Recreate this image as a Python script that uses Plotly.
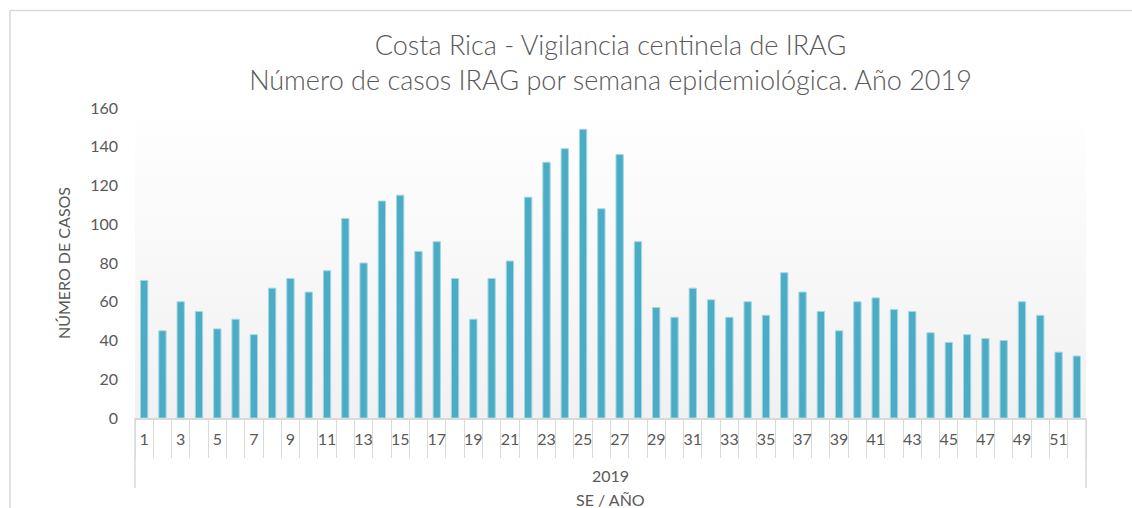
import plotly.graph_objects as go

# ---- data ----
weeks = [str(w) for w in range(1, 53)]
cases = [71, 45, 60, 55, 46, 51, 43, 67, 72, 65, 76, 103, 80, 112, 115, 86, 91, 72,
         51, 72, 81, 114, 132, 139, 149, 108, 136, 91, 57, 52, 67, 61, 52, 60, 53, 75,
         65, 55, 45, 60, 62, 56, 55, 44, 39, 43, 41, 40, 60, 53, 34, 32]
week_labels = [w if int(w) % 2 == 1 else "" for w in weeks]
year_label = "2019"
y_ticks = [0, 20, 40, 60, 80, 100, 120, 140, 160]

title_text = ("Costa Rica - Vigilancia centinela de IRAG<br>"
              "Número de casos IRAG por semana epidemiológica. Año 2019")

FONT = "Lato"
GREY = "#595959"
LINE = "#d9d9d9"

W, H = 1132, 508
ML, MR, MT, MB = 135, 46, 108, 90
pw = W - ML - MR
ph = H - MT - MB


def px_x(px):
    return (px - ML) / pw


def px_y(py):
    return (H - MB - py) / ph


fig = go.Figure()

# plot-area background gradient (white at top -> light grey at bottom)
fig.add_trace(go.Scatter(
    x=[0, 1, 1, 0, 0], y=[0, 0, y_ticks[-1], y_ticks[-1], 0],
    xaxis="x", yaxis="y", mode="lines", line=dict(width=0),
    fill="toself",
    fillgradient=dict(type="vertical",
                      colorscale=[[0, "#f1f1f1"], [1, "#ffffff"]]),
    hoverinfo="skip", showlegend=False,
))

fig.add_trace(go.Bar(
    x=weeks, y=cases, xaxis="x2", yaxis="y",
    marker=dict(color="#4bacc6", line=dict(color="#a6d6e4", width=1)),
    showlegend=False,
))

fig.update_layout(
    width=W, height=H,
    margin=dict(l=ML, r=MR, t=MT, b=MB),
    paper_bgcolor="white", plot_bgcolor="white",
    font=dict(family=FONT, color=GREY, size=16),
    bargap=0.6,
    title=dict(text=title_text, x=0.5, xref="paper", y=1 - 55 / H, yanchor="top",
               font=dict(family=FONT, size=27, color=GREY, weight=300)),
    xaxis=dict(range=[0, 1], visible=False, fixedrange=True),
    xaxis2=dict(
        overlaying="x", anchor="y", side="bottom", type="category",
        tickmode="array", tickvals=weeks, ticktext=week_labels, tickangle=0,
        ticks="outside", tickson="boundaries", ticklen=38, tickwidth=1,
        tickcolor=LINE, showline=True, linecolor=LINE, linewidth=1.5,
        showgrid=False, ticklabelstandoff=6,
        tickfont=dict(size=16, color=GREY),
    ),
    yaxis=dict(
        range=[0, 160], tickvals=y_ticks, showgrid=False, zeroline=False,
        showline=False, ticks="", ticklabelstandoff=16,
        tickfont=dict(size=16, color=GREY),
        title=dict(text="NÚMERO DE CASOS", font=dict(size=16, color=GREY)),
    ),
    annotations=[
        dict(text=year_label, xref="paper", yref="paper", x=0.5, y=px_y(475),
             showarrow=False, yanchor="middle", font=dict(size=16, color=GREY)),
        dict(text="SE / AÑO", xref="paper", yref="paper", x=0.5, y=px_y(499),
             showarrow=False, yanchor="middle", font=dict(size=16, color=GREY)),
    ],
    shapes=[
        # outer chart frame (top and left edges visible)
        dict(type="line", xref="paper", yref="paper", x0=px_x(10), x1=px_x(1140),
             y0=px_y(10.5), y1=px_y(10.5), line=dict(color=LINE, width=1.5)),
        dict(type="line", xref="paper", yref="paper", x0=px_x(10), x1=px_x(10),
             y0=px_y(10.5), y1=px_y(520), line=dict(color=LINE, width=1.5)),
        # year-group dividers
        dict(type="line", xref="paper", yref="paper", x0=0, x1=0,
             y0=0, y1=px_y(488), line=dict(color=LINE, width=1.5)),
        dict(type="line", xref="paper", yref="paper", x0=1, x1=1,
             y0=0, y1=px_y(488), line=dict(color=LINE, width=1.5)),
    ],
)

fig.write_html(
    "out.html",
    config={"displayModeBar": False},
    post_script="document.body.style.margin='0';document.body.style.overflow='hidden';",
)
